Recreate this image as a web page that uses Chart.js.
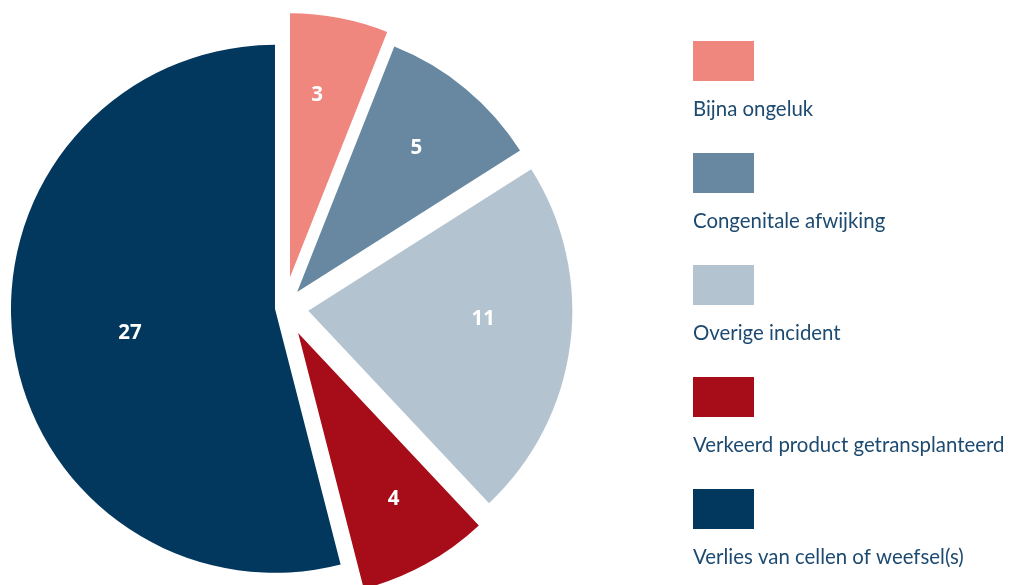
<!DOCTYPE html>
<html>
<head>
<meta charset="utf-8">
<script src="https://cdn.jsdelivr.net/npm/chart.js@4.4.1/dist/chart.umd.min.js"></script>
<style>
  html, body { margin: 0; padding: 0; background: #ffffff; }
  #wrap { position: relative; width: 1011px; height: 585px; }
  canvas { display: block; }
</style>
</head>
<body>
<div id="wrap"><canvas id="c" width="1011" height="585"></canvas></div>
<script>
// ---- data ----
const categories = [
  'Bijna ongeluk',
  'Congenitale afwijking',
  'Overige incident',
  'Verkeerd product getransplanteerd',
  'Verlies van cellen of weefsel(s)'
];
const counts = [3, 5, 11, 4, 27];
const sliceColors = ['#F0877F', '#6788A0', '#B4C3D0', '#A60D18', '#03385E'];

// ---- plugins ----
const explodePlugin = {
  id: 'explode',
  beforeDatasetDraw(chart, args, opts) {
    const ctx = chart.ctx;
    args.meta.data.forEach((arc, i) => {
      const mid = (arc.startAngle + arc.endAngle) / 2;
      const d = (opts.distances && opts.distances[i]) || 0;
      ctx.save();
      ctx.translate(Math.cos(mid) * d, Math.sin(mid) * d);
      arc.draw(ctx);
      ctx.restore();
    });
    return false;
  }
};

const valueLabels = {
  id: 'valueLabels',
  afterDatasetsDraw(chart, args, opts) {
    const ctx = chart.ctx;
    const meta = chart.getDatasetMeta(0);
    const dist = chart.options.plugins.explode.distances;
    ctx.save();
    ctx.fillStyle = '#ffffff';
    ctx.font = 'bold 20.5px "Open Sans", sans-serif';
    ctx.textAlign = 'center';
    ctx.textBaseline = 'middle';
    meta.data.forEach((arc, i) => {
      const mid = (arc.startAngle + arc.endAngle) / 2 + (opts.nudgeDeg[i] || 0) * Math.PI / 180;
      const rr = (dist[i] || 0) + arc.outerRadius * opts.fractions[i];
      ctx.fillText(String(chart.data.datasets[0].data[i]), arc.x + Math.cos(mid) * rr, arc.y + Math.sin(mid) * rr);
    });
    ctx.restore();
  }
};

const sideLegend = {
  id: 'sideLegend',
  afterDraw(chart, args, opts) {
    const ctx = chart.ctx;
    const ds = chart.data.datasets[0];
    ctx.save();
    chart.data.labels.forEach((lab, i) => {
      const top = opts.top + i * opts.step;
      ctx.fillStyle = ds.backgroundColor[i];
      ctx.fillRect(opts.left, top, opts.boxW, opts.boxH);
      ctx.fillStyle = opts.color;
      ctx.font = opts.font;
      ctx.textAlign = 'left';
      ctx.textBaseline = 'alphabetic';
      ctx.fillText(lab, opts.left, top + opts.textOffset);
    });
    ctx.restore();
  }
};

new Chart(document.getElementById('c'), {
  type: 'pie',
  data: {
    labels: categories,
    datasets: [{
      data: counts,
      backgroundColor: sliceColors,
      borderWidth: 0,
      hoverOffset: 0
    }]
  },
  options: {
    responsive: false,
    animation: false,
    radius: 264,
    layout: { padding: { left: 0, right: 442.6, top: 30.4, bottom: 0 } },
    plugins: {
      legend: { display: false },
      tooltip: { enabled: false },
      explode: { distances: [30.9, 20.3, 24.3, 28.9, 9.3] },
      valueLabels: {
        fractions: [0.696, 0.708, 0.663, 0.725, 0.557],
        nudgeDeg: [-2, 0, -4, -1, -2.2]
      },
      sideLegend: {
        left: 693, top: 41, step: 112, boxW: 61, boxH: 40, textOffset: 75,
        color: '#1D4A70', font: '20.4px Lato, sans-serif'
      }
    }
  },
  plugins: [explodePlugin, valueLabels, sideLegend]
});
</script>
</body>
</html>
